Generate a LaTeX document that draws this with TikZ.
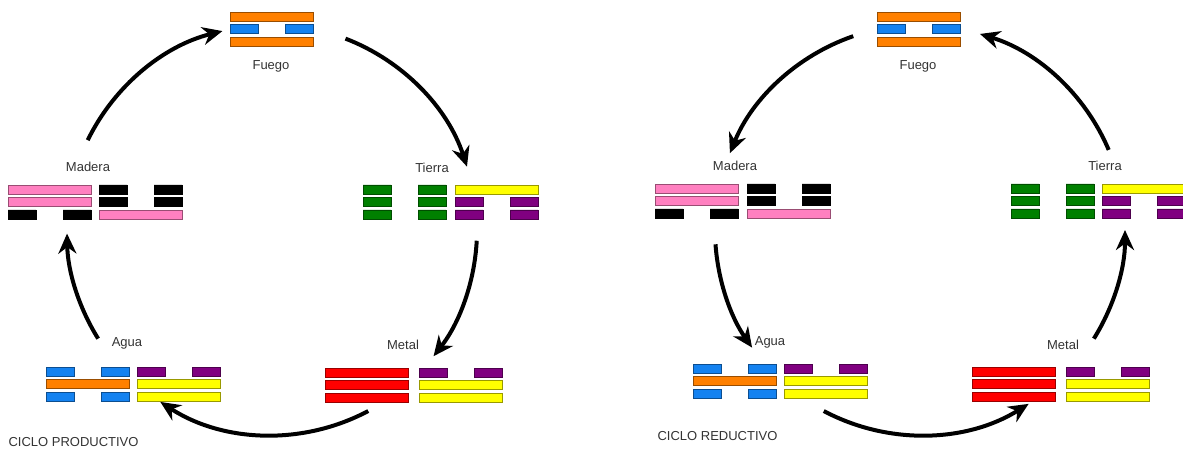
\documentclass[tikz,border=0pt]{standalone}
\usepackage{fontspec}
\setmainfont{Liberation Sans}
\usetikzlibrary{arrows.meta}
\usetikzlibrary{calc}
\usepackage{xcolor}

\definecolor{fuegoorange}{RGB}{255,128,0}
\definecolor{aguablue}{RGB}{20,130,240}
\definecolor{maderapink}{RGB}{255,128,192}
\definecolor{tierragreen}{RGB}{0,128,0}
\definecolor{yinpurple}{RGB}{128,0,128}
\definecolor{metalred}{RGB}{255,0,0}
\definecolor{tierrayellow}{RGB}{255,255,0}

% one line of a trigram: colour, x, y (top left)
\newcommand{\yang}[3]{\filldraw[bar,fill=#1,draw=#1!60!black] (#2,#3) rectangle ++(83,9);}
\newcommand{\yin}[3]{\filldraw[bar,fill=#1,draw=#1!60!black] (#2,#3) rectangle ++(28,9) (#2+55,#3) rectangle ++(28,9);}
\newcommand{\trigram}[5]{#3{#1}{#2}#4{#1}{#2+12.5}#5{#1}{#2+25}}

\begin{document}
\begin{tikzpicture}[x=1pt,y=-1pt,
    bar/.style={line width=0.6pt},
    lbl/.style={font=\fontsize{13}{15}\selectfont,text=black!80},
    cyc/.style={line width=4pt,-{Stealth[length=20pt,width=18pt]}}]
    \useasboundingbox (0,0) rectangle (1183,449);

    % ciclo productivo
    \coordinate (prodc) at (272,230);

    \node[lbl] (fuegoP) at (271,66) {Fuego};
    \trigram{230}{12}{\yang{fuegoorange}}{\yin{aguablue}}{\yang{fuegoorange}}

    \node[lbl] (tierraP) at (432,168) {Tierra};
    \trigram{363}{185}{\yin{tierragreen}}{\yin{tierragreen}}{\yin{tierragreen}}
    \trigram{455}{185}{\yang{tierrayellow}}{\yin{yinpurple}}{\yin{yinpurple}}

    \node[lbl] (metalP) at (403,345) {Metal};
    \trigram{325}{368}{\yang{metalred}}{\yang{metalred}}{\yang{metalred}}
    \trigram{419}{368}{\yin{yinpurple}}{\yang{tierrayellow}}{\yang{tierrayellow}}

    \node[lbl] (aguaP) at (127,343) {Agua};
    \trigram{46}{367}{\yin{aguablue}}{\yang{fuegoorange}}{\yin{aguablue}}
    \trigram{137}{367}{\yin{yinpurple}}{\yang{tierrayellow}}{\yang{tierrayellow}}

    \node[lbl] (maderaP) at (88,167) {Madera};
    \trigram{8}{185}{\yang{maderapink}}{\yang{maderapink}}{\yin{black}}
    \trigram{99}{185}{\yin{black}}{\yin{black}}{\yang{maderapink}}

    \node[lbl,anchor=west] (prodlbl) at (5,442) {CICLO PRODUCTIVO};

    \coordinate (p1) at ($(prodc)+(-69:205)$);
    \coordinate (p2) at ($(prodc)+(3:205)$);
    \coordinate (p3) at ($(prodc)+(62:205)$);
    \coordinate (p4) at ($(prodc)+(148:205)$);
    \coordinate (p5) at ($(prodc)+(206:205)$);
    \draw[cyc] (p1) arc[start angle=-69,end angle=-18,radius=205];
    \draw[cyc] (p2) arc[start angle=3,end angle=38,radius=205];
    \draw[cyc] (p3) arc[start angle=62,end angle=123,radius=205];
    \draw[cyc] (p4) arc[start angle=148,end angle=179,radius=205];
    \draw[cyc] (p5) arc[start angle=206,end angle=256,radius=205];

    % ciclo reductivo
    \coordinate (redc) at (920,230);

    \node[lbl] (fuegoR) at (918,66) {Fuego};
    \trigram{877}{12}{\yang{fuegoorange}}{\yin{aguablue}}{\yang{fuegoorange}}

    \node[lbl] (tierraR) at (1105,166) {Tierra};
    \trigram{1011}{184}{\yin{tierragreen}}{\yin{tierragreen}}{\yin{tierragreen}}
    \trigram{1102}{184}{\yang{tierrayellow}}{\yin{yinpurple}}{\yin{yinpurple}}

    \node[lbl] (metalR) at (1063,345) {Metal};
    \trigram{972}{367}{\yang{metalred}}{\yang{metalred}}{\yang{metalred}}
    \trigram{1066}{367}{\yin{yinpurple}}{\yang{tierrayellow}}{\yang{tierrayellow}}

    \node[lbl] (aguaR) at (770,342) {Agua};
    \trigram{693}{364}{\yin{aguablue}}{\yang{fuegoorange}}{\yin{aguablue}}
    \trigram{784}{364}{\yin{yinpurple}}{\yang{tierrayellow}}{\yang{tierrayellow}}

    \node[lbl] (maderaR) at (735,166) {Madera};
    \trigram{655}{184}{\yang{maderapink}}{\yang{maderapink}}{\yin{black}}
    \trigram{747}{184}{\yin{black}}{\yin{black}}{\yang{maderapink}}

    \node[lbl,anchor=west] (redlbl) at (654,436) {CICLO REDUCTIVO};

    \coordinate (r1) at ($(redc)+(-109:205)$);
    \coordinate (r2) at ($(redc)+(176:205)$);
    \coordinate (r3) at ($(redc)+(118:205)$);
    \coordinate (r4) at ($(redc)+(32:205)$);
    \coordinate (r5) at ($(redc)+(-23:205)$);
    \draw[cyc] (r1) arc[start angle=-109,end angle=-158,radius=205];
    \draw[cyc] (r2) arc[start angle=176,end angle=145,radius=205];
    \draw[cyc] (r3) arc[start angle=118,end angle=58,radius=205];
    \draw[cyc] (r4) arc[start angle=32,end angle=0,radius=205];
    \draw[cyc] (r5) arc[start angle=-23,end angle=-73,radius=205];
\end{tikzpicture}
\end{document}
